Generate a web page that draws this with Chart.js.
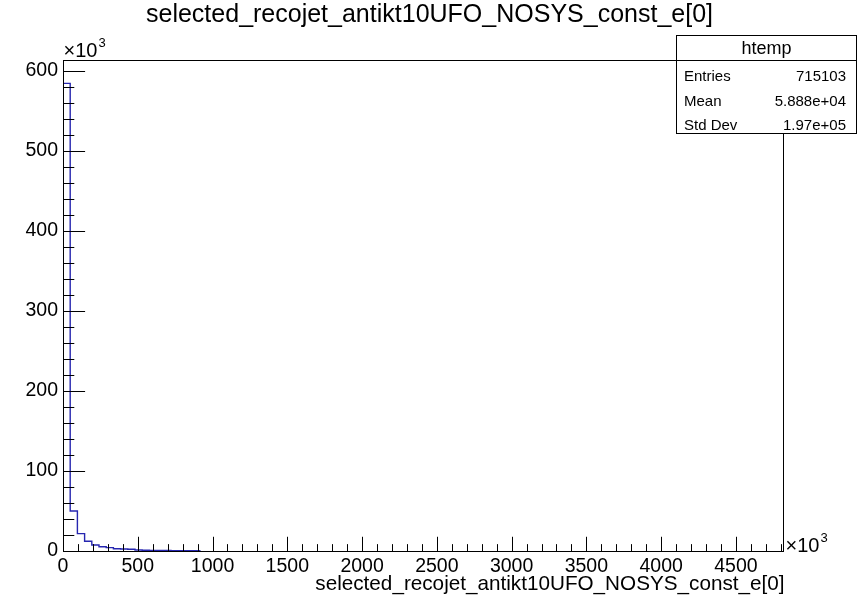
<!DOCTYPE html>
<html>
<head>
<meta charset="utf-8">
<title>selected_recojet_antikt10UFO_NOSYS_const_e[0]</title>
<script src="https://cdn.jsdelivr.net/npm/chart.js@4.4.1/dist/chart.umd.min.js"></script>
<style>
  html, body { margin: 0; padding: 0; background: #fff; }
</style>
</head>
<body>
<canvas id="hist" width="859" height="600"></canvas>
<script>
// htemp: leading constituent energy, 100 bins, x axis in units of 10^3
const histTitle = 'selected_recojet_antikt10UFO_NOSYS_const_e[0]';
const xTitle = 'selected_recojet_antikt10UFO_NOSYS_const_e[0]';
const nBins = 100;
const xMin = 0;
const xMax = 4815;

// contents of the filled bins, starting from the first one; the remaining bins are empty
const binCounts = [584600, 50000, 21700, 12100, 7500, 5400, 4200, 2900, 2500, 2200,
                   1300, 1000, 800, 650, 550, 450, 400, 350, 300];

const xMajorStep = 500, xMinorStep = 100;
const yMajorStep = 100000, yMinorStep = 20000;

const statsName = 'htemp';
const statLabels = ['Entries', 'Mean', 'Std Dev'];
const statValues = ['715103', '5.888e+04', '1.97e+05'];

const FONT = "'Liberation Sans', Arial, Helvetica, sans-serif";
const lineBlue = '#2626b0';

// ROOT puts 5% headroom above the highest bin
const yMax = Math.max(...binCounts) * 1.05;
const binWidth = (xMax - xMin) / nBins;

// histogram outline: up from the baseline, across each bin, back down after the last filled bin
const outline = [{ x: xMin, y: 0 }];
binCounts.forEach((c, i) => outline.push({ x: xMin + i * binWidth, y: c }));
outline.push({ x: xMin + binCounts.length * binWidth, y: 0 });

// labelled ticks on every major division inside the axis range
function majorTicks(lo, hi, step) {
    const out = [];
    for (let v = lo; v <= hi; v += step) out.push({ value: v });
    return out;
}

function drawTimesTen(ctx, x, y) {
    ctx.font = '20px ' + FONT;
    ctx.textAlign = 'left';
    ctx.textBaseline = 'alphabetic';
    ctx.fillText('\u00d710', x, y);
    const w = ctx.measureText('\u00d710').width;
    ctx.font = '13px ' + FONT;
    ctx.fillText('3', x + w + 1, y - 10);
}

// frame, inward ticks, titles and stats box in ROOT style
const rootStyle = {
    id: 'rootStyle',
    afterDatasetsDraw(chart) {
        const { ctx, chartArea: a, scales: { x, y } } = chart;
        const L = Math.round(a.left) + 0.5, R = Math.round(a.right) + 0.5;
        const T = Math.round(a.top) + 0.5, B = Math.round(a.bottom) + 0.5;
        ctx.save();
        ctx.strokeStyle = '#000';
        ctx.fillStyle = '#000';
        ctx.lineWidth = 1;

        ctx.strokeRect(L, T, R - L, B - T);

        const xTick = (a.bottom - a.top) * 0.03;
        const yTick = (a.right - a.left) * 0.03;
        ctx.beginPath();
        for (let v = xMin; v <= xMax; v += xMinorStep) {
            const px = Math.round(x.getPixelForValue(v)) + 0.5;
            const len = v % xMajorStep === 0 ? xTick : xTick / 2;
            ctx.moveTo(px, B);
            ctx.lineTo(px, B - len);
        }
        for (let v = 0; v <= yMax; v += yMinorStep) {
            const py = Math.round(y.getPixelForValue(v)) + 0.5;
            const len = v % yMajorStep === 0 ? yTick : yTick / 2;
            ctx.moveTo(L, py);
            ctx.lineTo(L + len, py);
        }
        ctx.stroke();

        drawTimesTen(ctx, L, 56.5);
        drawTimesTen(ctx, R + 2, B);

        ctx.font = '25px ' + FONT;
        ctx.textAlign = 'center';
        ctx.textBaseline = 'alphabetic';
        ctx.fillText(histTitle, chart.width / 2, 22);

        ctx.font = '20.7px ' + FONT;
        ctx.textAlign = 'right';
        ctx.fillText(xTitle, R + 1, 590);

        // stats box
        const bx = 676.5, by = 35.5, bw = 180, bh = 98;
        ctx.fillStyle = '#fff';
        ctx.fillRect(bx, by, bw, bh);
        ctx.strokeRect(bx, by, bw, bh);
        ctx.beginPath();
        ctx.moveTo(bx, 60.5);
        ctx.lineTo(bx + bw, 60.5);
        ctx.stroke();
        ctx.fillStyle = '#000';
        ctx.textBaseline = 'middle';
        ctx.font = '18px ' + FONT;
        ctx.textAlign = 'center';
        ctx.fillText(statsName, bx + bw / 2, 49);
        ctx.font = '15px ' + FONT;
        const rowY = [76.5, 101.5, 126];
        statLabels.forEach((lab, i) => {
            ctx.textAlign = 'left';
            ctx.fillText(lab, 684, rowY[i]);
            ctx.textAlign = 'right';
            ctx.fillText(statValues[i], 846, rowY[i]);
        });
        ctx.restore();
    }
};

new Chart(document.getElementById('hist'), {
    type: 'line',
    data: {
        datasets: [{
            data: outline,
            stepped: true,
            borderColor: lineBlue,
            borderWidth: 1.4,
            pointRadius: 0,
            fill: false
        }]
    },
    options: {
        responsive: false,
        devicePixelRatio: 1,
        animation: false,
        layout: { padding: { left: 0, right: 76, top: 60, bottom: 0 } },
        plugins: {
            legend: { display: false },
            title: { display: false },
            tooltip: { enabled: false }
        },
        scales: {
            x: {
                type: 'linear',
                min: xMin,
                max: xMax,
                afterFit: s => { s.height = 49; },
                afterBuildTicks: s => { s.ticks = majorTicks(xMin, xMax, xMajorStep); },
                grid: { display: false, drawTicks: false },
                border: { display: false },
                ticks: {
                    autoSkip: false,
                    maxRotation: 0,
                    padding: 4,
                    color: '#000',
                    font: { family: FONT, size: 19.5 },
                    callback: v => v
                }
            },
            y: {
                min: 0,
                max: yMax,
                afterFit: s => { s.width = 63; },
                afterBuildTicks: s => { s.ticks = majorTicks(0, yMax, yMajorStep); },
                grid: { display: false, drawTicks: false },
                border: { display: false },
                ticks: {
                    autoSkip: false,
                    padding: 5,
                    color: '#000',
                    font: { family: FONT, size: 19.5 },
                    callback: v => v / 1000
                }
            }
        }
    },
    plugins: [rootStyle]
});
</script>
</body>
</html>
